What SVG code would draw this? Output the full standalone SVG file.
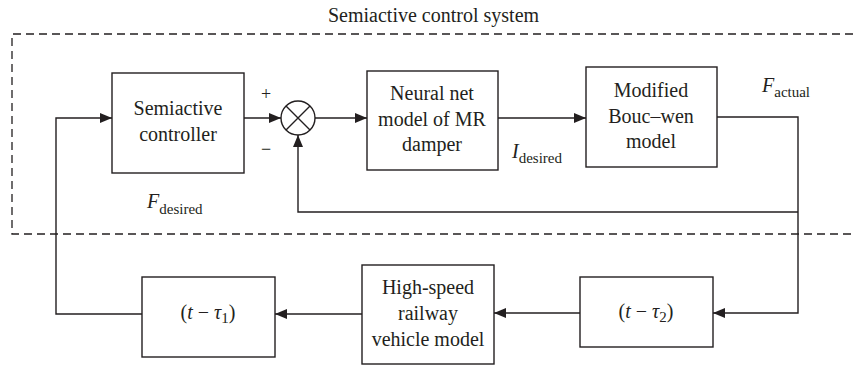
<svg xmlns="http://www.w3.org/2000/svg" width="853" height="366" viewBox="0 0 853 366" font-family="'Liberation Serif', 'DejaVu Serif', serif">
  <style>
    .box { fill: #ffffff; stroke: #231f20; stroke-width: 1.4; }
    .wire { fill: none; stroke: #231f20; stroke-width: 1.4; }
    .dash { fill: none; stroke: #231f20; stroke-width: 1.3; stroke-dasharray: 8 5; }
    text { font-family: 'Liberation Serif', 'DejaVu Serif', serif; font-size: 20px; fill: #231f20; }
    .mid { text-anchor: middle; }
    .it { font-style: italic; }
    .sub { font-size: 15px; font-style: normal; }
    .sign { font-size: 18px; }
  </style>
  <defs>
    <marker id="arrow" markerUnits="userSpaceOnUse" markerWidth="12" markerHeight="10" refX="12" refY="5" orient="auto">
      <path d="M0,0 L12,5 L0,10 Z" fill="#231f20"/>
    </marker>
  </defs>

  <!-- semiactive control system boundary -->
  <g id="boundary">
    <path class="dash" d="M853,34 H12 V234 H853"/>
    <text x="328" y="22">Semiactive control system</text>
  </g>

  <g id="controller">
    <rect class="box" x="112" y="73" width="132" height="100"/>
    <text class="mid" x="178" y="115">Semiactive</text>
    <text class="mid" x="178" y="141">controller</text>
  </g>

  <g id="summer">
    <circle class="box" cx="298" cy="118" r="17"/>
    <path class="wire" d="M286,106 L310,130 M310,106 L286,130"/>
    <text class="mid sign" x="266" y="100">+</text>
    <text class="mid sign" x="266" y="155">−</text>
  </g>

  <g id="neural">
    <rect class="box" x="367" y="71" width="131" height="99"/>
    <text class="mid" x="432" y="100">Neural net</text>
    <text class="mid" x="432" y="126">model of MR</text>
    <text class="mid" x="432" y="151">damper</text>
  </g>

  <g id="boucwen">
    <rect class="box" x="586" y="67" width="131" height="100"/>
    <text class="mid" x="651" y="97">Modified</text>
    <text class="mid" x="651" y="123">Bouc–wen</text>
    <text class="mid" x="651" y="148">model</text>
  </g>

  <g id="delay2">
    <rect class="box" x="580" y="277" width="133" height="70"/>
    <text class="mid" x="646" y="318">(<tspan class="it">t</tspan> − <tspan class="it">τ</tspan><tspan class="sub" dy="4">2</tspan><tspan dy="-4">)</tspan></text>
  </g>

  <g id="vehicle">
    <rect class="box" x="362" y="265" width="132" height="99"/>
    <text class="mid" x="428" y="294">High-speed</text>
    <text class="mid" x="428" y="320">railway</text>
    <text class="mid" x="428" y="346">vehicle model</text>
  </g>

  <g id="delay1">
    <rect class="box" x="142" y="277" width="133" height="80"/>
    <text class="mid" x="208" y="319">(<tspan class="it">t</tspan> − <tspan class="it">τ</tspan><tspan class="sub" dy="4">1</tspan><tspan dy="-4">)</tspan></text>
  </g>

  <!-- signal labels -->
  <g id="labels">
    <text class="it" x="147" y="208">F<tspan class="sub" dy="6">desired</tspan></text>
    <text class="it" x="512" y="158">I<tspan class="sub" dy="5">desired</tspan></text>
    <text class="it" x="762" y="92">F<tspan class="sub" dy="5">actual</tspan></text>
  </g>

  <g id="connectors">
    <path class="wire" d="M244,118 H281" marker-end="url(#arrow)"/>
    <path class="wire" d="M315,118 H367" marker-end="url(#arrow)"/>
    <path class="wire" d="M498,118 H586" marker-end="url(#arrow)"/>
    <path class="wire" d="M717,117 H798 V313 H713" marker-end="url(#arrow)"/>
    <path class="wire" d="M798,212 H298 V135" marker-end="url(#arrow)"/>
    <path class="wire" d="M580,313 H494" marker-end="url(#arrow)"/>
    <path class="wire" d="M362,314 H275" marker-end="url(#arrow)"/>
    <path class="wire" d="M142,314 H56 V118 H112" marker-end="url(#arrow)"/>
  </g>
</svg>
